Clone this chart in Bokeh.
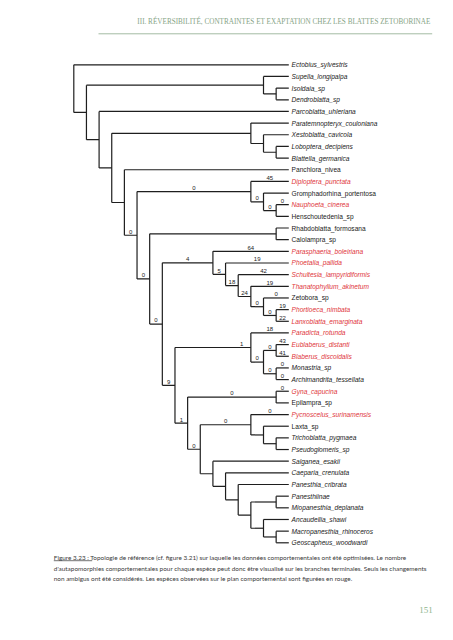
from bokeh.plotting import figure
from bokeh.models import ColumnDataSource, Range1d
from bokeh.core.properties import value
from bokeh.embed import file_html
from bokeh.resources import INLINE

# ---------------- data ----------------
# tree topology: internal node -> (upper child, lower child)
nodes = {
    "root": ("Ectobius_sylvestris", "A"),
    "A": ("n_sup", "B"),
    "n_sup": ("Supella_longipalpa", "n_iso"),
    "n_iso": ("Isoldaia_sp", "Dendroblatta_sp"),
    "B": ("Parcoblatta_uhleriana", "C"),
    "C": ("n_par", "D"),
    "n_par": ("Paratemnopteryx_couloniana", "n_xes"),
    "n_xes": ("Xestoblatta_cavicola", "n_lob"),
    "n_lob": ("Loboptera_decipiens", "Blattella_germanica"),
    "D": ("Panchlora_nivea", "E"),
    "E": ("n_dip", "F"),
    "n_dip": ("Diploptera_punctata", "n_gro"),
    "n_gro": ("Gromphadorhina_portentosa", "n_nau"),
    "n_nau": ("Nauphoeta_cinerea", "Henschoutedenia_sp"),
    "F": ("n_rha", "G"),
    "n_rha": ("Rhabdoblatta_formosana", "Calolampra_sp"),
    "G": ("H", "I"),
    "H": ("Parasphaeria_boleiriana", "J"),
    "J": ("Phoetalia_pallida", "K"),
    "K": ("Schultesia_lampyridiformis", "L"),
    "L": ("Thanatophyllum_akinetum", "M"),
    "M": ("Zetobora_sp", "N"),
    "N": ("Phortioeca_nimbata", "Lanxoblatta_emarginata"),
    "I": ("O", "S"),
    "O": ("Paradicta_rotunda", "P"),
    "P": ("Q", "R"),
    "Q": ("Eublaberus_distanti", "Blaberus_discoidalis"),
    "R": ("Monastria_sp", "Archimandrita_tessellata"),
    "S": ("T", "U"),
    "T": ("Gyna_capucina", "Epilampra_sp"),
    "U": ("V", "W"),
    "V": ("Pycnoscelus_surinamensis", "X"),
    "X": ("Laxta_sp", "Y"),
    "Y": ("Trichoblatta_pygmaea", "Pseudoglomeris_sp"),
    "W": ("Salganea_esakii", "Z"),
    "Z": ("Caeparia_crenulata", "AA"),
    "AA": ("Panesthia_cribrata", "AB"),
    "AB": ("AC", "AD"),
    "AC": ("Panesthiinae", "Miopanesthia_deplanata"),
    "AD": ("Ancaudellia_shawi", "AE"),
    "AE": ("Macropanesthia_rhinoceros", "Geoscapheus_woodwardi"),
}

red_species = [
    "Diploptera_punctata", "Nauphoeta_cinerea", "Parasphaeria_boleiriana",
    "Phoetalia_pallida", "Schultesia_lampyridiformis", "Thanatophyllum_akinetum",
    "Phortioeca_nimbata", "Lanxoblatta_emarginata", "Paradicta_rotunda",
    "Eublaberus_distanti", "Blaberus_discoidalis", "Gyna_capucina",
    "Pycnoscelus_surinamensis",
]

upright_species = [
    "Panchlora_nivea", "Gromphadorhina_portentosa", "Henschoutedenia_sp",
    "Rhabdoblatta_formosana", "Calolampra_sp", "Zetobora_sp",
    "Epilampra_sp", "Laxta_sp",
]

# number of behavioural autapomorphies on the branch leading to each node
branch_counts = {
    "n_dip": "0", "Diploptera_punctata": "45", "n_gro": "0", "n_nau": "0",
    "Nauphoeta_cinerea": "0", "E": "0", "F": "0", "G": "0", "H": "4",
    "Parasphaeria_boleiriana": "64", "J": "5", "Phoetalia_pallida": "19",
    "K": "18", "Schultesia_lampyridiformis": "42", "L": "24",
    "Thanatophyllum_akinetum": "19", "M": "0", "Zetobora_sp": "0", "N": "0",
    "Phortioeca_nimbata": "19", "Lanxoblatta_emarginata": "22", "I": "9",
    "O": "1", "Paradicta_rotunda": "18", "P": "0", "Q": "0",
    "Eublaberus_distanti": "43", "Blaberus_discoidalis": "41", "R": "0",
    "Monastria_sp": "0", "Archimandrita_tessellata": "0", "S": "1", "T": "0",
    "Gyna_capucina": "0", "U": "0", "V": "0", "Pycnoscelus_surinamensis": "0",
}
label_pos = {"O": 0.88}   # fraction along the branch (default 0.5)

header_text = "III. RÉVERSIBILITÉ, CONTRAINTES ET EXAPTATION CHEZ LES BLATTES ZETOBORINAE"
caption_lines = [
    "Figure 3.23 : Topologie de référence (cf. figure 3.21) sur laquelle les données comportementales ont été optimisées. Le nombre",
    "d'autapomorphies comportementales pour chaque espèce peut donc être visualisé sur les branches terminales. Seuls les changements",
    "non ambigus ont été considérés. Les espèces observées sur le plan comportemental sont figurées en rouge.",
]
page_number = "151"

# ---------------- layout (page pixel coordinates) ----------------
X_ROOT, X_TIP = 73.3, 288.3
Y_FIRST, Y_LAST = 64.3, 542.3

height = {}
def get_h(n):
    if n not in nodes:
        return 0
    if n not in height:
        height[n] = 1 + max(get_h(c) for c in nodes[n])
    return height[n]
H = get_h("root")

leaves = []
def collect(n):
    if n in nodes:
        for c in nodes[n]:
            collect(c)
    else:
        leaves.append(n)
collect("root")

DX = (X_TIP - X_ROOT) / H
DY = (Y_LAST - Y_FIRST) / (len(leaves) - 1)

X, Y = {}, {}
def place(n):
    X[n] = X_ROOT + (H - get_h(n)) * DX
    if n in nodes:
        for c in nodes[n]:
            place(c)
        Y[n] = (Y[nodes[n][0]] + Y[nodes[n][1]]) / 2
    else:
        Y[n] = Y_FIRST + leaves.index(n) * DY
place("root")

x0s, y0s, x1s, y1s = [], [], [], []
bx, by, bt = [], [], []
for n, (c1, c2) in nodes.items():
    x0s.append(X[n]); y0s.append(Y[c1]); x1s.append(X[n]); y1s.append(Y[c2])
    for c in (c1, c2):
        x0s.append(X[n]); y0s.append(Y[c]); x1s.append(X[c]); y1s.append(Y[c])
        if c in branch_counts:
            f = label_pos.get(c, 0.5)
            bx.append(X[n] + f * (X[c] - X[n]))
            by.append(Y[c] - 1.6)
            bt.append(branch_counts[c])

W, Hgt = 453, 640
p = figure(width=W, height=Hgt, output_backend="svg", toolbar_location=None,
           x_range=Range1d(0, W), y_range=Range1d(Hgt, 0),
           min_border=0, outline_line_color=None, background_fill_color="white",
           border_fill_color="white")
p.axis.visible = False
p.grid.visible = False

p.segment(x0=x0s, y0=y0s, x1=x1s, y1=y1s, line_color="#1e1e1e", line_width=1.2)

p.text(x=bx, y=by, text=bt, text_font=value("Liberation Sans"), text_font_size="6px",
       text_color="#222222", text_align="center", text_baseline="bottom")

for style, keep in (("italic", lambda s: s not in upright_species),
                    ("normal", lambda s: s in upright_species)):
    sel = [s for s in leaves if keep(s)]
    src = ColumnDataSource(dict(
        x=[X_TIP + 2.8] * len(sel), y=[Y[s] for s in sel], t=sel,
        c=["#e0353b" if s in red_species else "#1a1a1a" for s in sel]))
    p.text(x="x", y="y", text="t", text_color="c", source=src,
           text_font=value("Liberation Sans"), text_font_style=style,
           text_font_size="6.6px", text_baseline="middle", text_align="left")

# header
p.text(x=[430], y=[21], text=[header_text], text_font=value("Liberation Serif"),
       text_font_size="7.2px", text_color="#86a386", text_align="right",
       text_baseline="alphabetic")
p.segment(x0=[98], y0=[33.3], x1=[431.7], y1=[33.3], line_color="#a3bba3", line_width=1)

# caption
p.text(x=[53.3] * 3, y=[556.7, 567.7, 578.3], text=caption_lines,
       text_font=value("Lato"), text_font_size="6.4px", text_color="#3a3a3a",
       text_align="left", text_baseline="middle")
p.segment(x0=[53.3], y0=[560.2], x1=[91.7], y1=[560.2], line_color="#3a3a3a", line_width=0.7)

# page number
p.text(x=[425.5], y=[609.5], text=[page_number], text_font=value("Liberation Serif"),
       text_font_size="9px", text_color="#8db58d", text_align="center",
       text_baseline="middle")

open("out.html", "w").write(file_html(p, INLINE))
